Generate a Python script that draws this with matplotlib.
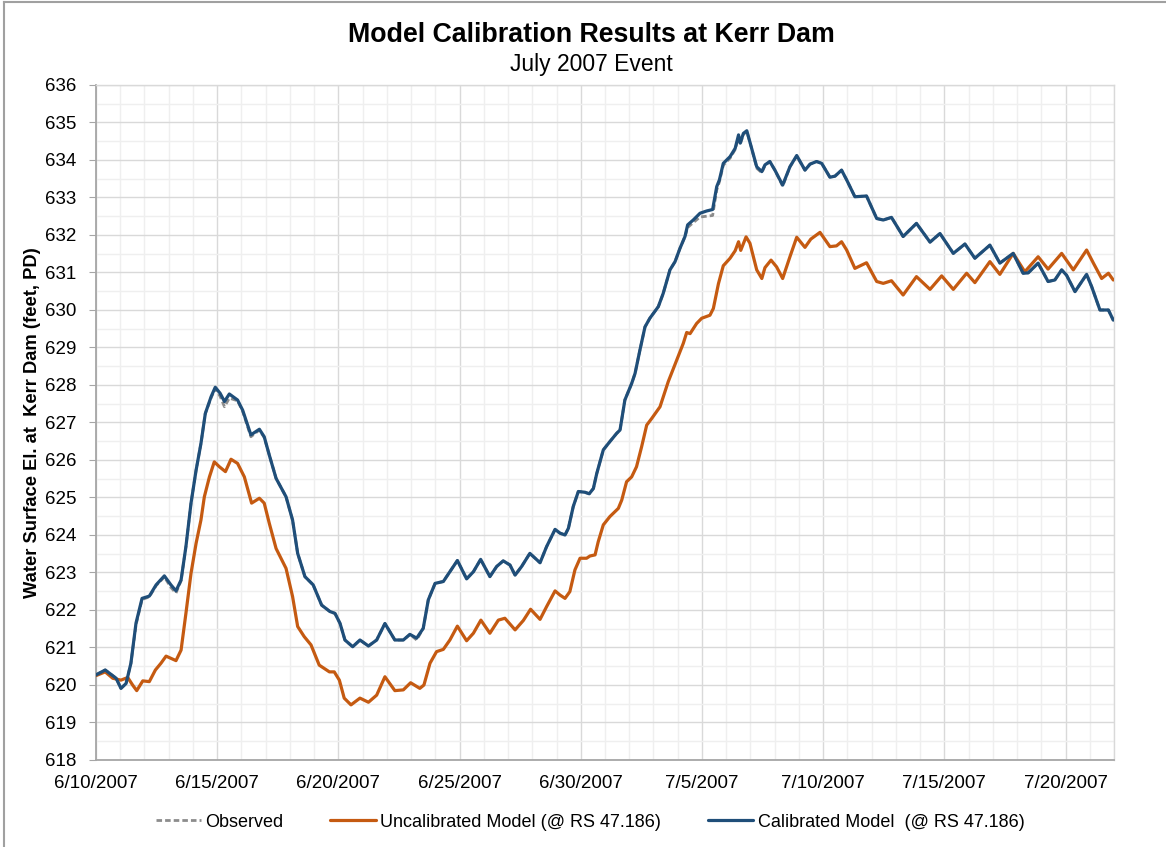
import numpy as np
import matplotlib
matplotlib.use("Agg")
import matplotlib.pyplot as plt
import matplotlib.dates as mdates
from matplotlib.lines import Line2D

plt.rcParams['font.family'] = ['Liberation Sans', 'DejaVu Sans']

# ---------------- data (days after 6/10/2007, water surface elevation) ----------------
start_date = np.datetime64('2007-06-10T00:00')

calib_day = [0, 0.38, 0.83, 1.03, 1.24, 1.44, 1.65, 1.90, 2.20, 2.48, 2.82, 3.09, 3.30, 3.51, 3.71,
             3.92, 4.13, 4.33, 4.51, 4.75, 4.92, 5.12, 5.30, 5.50, 5.84, 6.05, 6.39, 6.74, 6.94, 7.15,
             7.43, 7.84, 8.11, 8.32, 8.62, 8.96, 9.31, 9.65, 9.86, 10.07, 10.27, 10.59, 10.89, 11.24,
             11.58, 11.92, 12.33, 12.68, 12.95, 13.23, 13.50, 13.71, 13.99, 14.33, 14.60, 14.91, 15.29,
             15.57, 15.87, 16.25, 16.53, 16.80, 17.08, 17.29, 17.56, 17.90, 18.32, 18.59, 18.94, 19.14,
             19.35, 19.49, 19.69, 19.90, 20.17, 20.35, 20.52, 20.66, 20.93, 21.20, 21.48, 21.62, 21.82,
             22.10, 22.24, 22.44, 22.65, 22.85, 23.20, 23.40, 23.68, 23.89, 24.09, 24.30, 24.41, 24.64,
             24.92, 25.19, 25.44, 25.61, 25.72, 25.88, 26.16, 26.37, 26.51, 26.58, 26.71, 26.85, 27.05,
             27.26, 27.47, 27.60, 27.80, 28.01, 28.33, 28.63, 28.91, 29.25, 29.46, 29.73, 29.94, 30.28,
             30.49, 30.76, 30.97, 31.31, 31.79, 32.21, 32.48, 32.82, 33.30, 33.85, 34.41, 34.82, 35.37,
             35.85, 36.26, 36.88, 37.29, 37.84, 38.25, 38.46, 38.87, 39.28, 39.56, 39.84, 40.04, 40.39,
             40.87, 41.08, 41.42, 41.77, 41.97]
calib_elev = [620.27, 620.40, 620.18, 619.91, 620.04, 620.58, 621.65, 622.31, 622.37, 622.67, 622.91,
              622.67, 622.51, 622.80, 623.69, 624.85, 625.73, 626.44, 627.24, 627.69, 627.94, 627.78,
              627.56, 627.76, 627.60, 627.33, 626.67, 626.82, 626.62, 626.13, 625.51, 625.02, 624.40,
              623.51, 622.89, 622.67, 622.13, 621.96, 621.91, 621.64, 621.20, 621.02, 621.20, 621.04,
              621.20, 621.64, 621.20, 621.20, 621.35, 621.25, 621.51, 622.27, 622.71, 622.76, 623.02,
              623.32, 622.83, 623.02, 623.35, 622.89, 623.16, 623.31, 623.20, 622.93, 623.16, 623.51,
              623.26, 623.69, 624.15, 624.05, 624.00, 624.18, 624.76, 625.16, 625.14, 625.10, 625.24,
              625.64, 626.27, 626.49, 626.71, 626.80, 627.60, 628.04, 628.31, 628.93, 629.55, 629.78,
              630.09, 630.44, 631.07, 631.29, 631.64, 631.96, 632.27, 632.40, 632.58, 632.64, 632.68,
              633.29, 633.47, 633.91, 634.09, 634.31, 634.67, 634.45, 634.71, 634.78, 634.31, 633.82,
              633.69, 633.87, 633.96, 633.73, 633.33, 633.82, 634.12, 633.73, 633.89, 633.96, 633.91,
              633.54, 633.57, 633.73, 633.47, 633.02, 633.04, 632.44, 632.40, 632.47, 631.96, 632.31,
              631.81, 632.04, 631.51, 631.76, 631.38, 631.73, 631.25, 631.51, 630.98, 630.99, 631.25,
              630.76, 630.80, 631.07, 630.93, 630.49, 630.95, 630.62, 630.00, 630.00, 629.73]

obs_day = calib_day
obs_elev = [620.27, 620.40, 620.18, 619.91, 620.04, 620.58, 621.60, 622.28, 622.35, 622.65, 622.88,
            622.60, 622.45, 622.78, 623.69, 624.85, 625.73, 626.44, 627.24, 627.66, 627.90, 627.70,
            627.42, 627.65, 627.58, 627.30, 626.62, 626.80, 626.60, 626.13, 625.51, 625.02, 624.40,
            623.51, 622.89, 622.67, 622.13, 621.96, 621.91, 621.64, 621.20, 621.02, 621.20, 621.04,
            621.20, 621.64, 621.20, 621.20, 621.35, 621.20, 621.51, 622.27, 622.71, 622.76, 623.02,
            623.32, 622.83, 623.02, 623.35, 622.89, 623.16, 623.31, 623.20, 622.93, 623.16, 623.51,
            623.26, 623.69, 624.15, 624.05, 624.00, 624.18, 624.76, 625.16, 625.14, 625.10, 625.24,
            625.64, 626.27, 626.49, 626.71, 626.80, 627.60, 628.04, 628.31, 628.93, 629.55, 629.78,
            630.09, 630.44, 631.07, 631.29, 631.64, 631.96, 632.20, 632.33, 632.48, 632.50, 632.52,
            633.20, 633.42, 633.86, 634.05, 634.28, 634.60, 634.42, 634.68, 634.76, 634.31, 633.78,
            633.66, 633.85, 633.96, 633.73, 633.30, 633.82, 634.10, 633.73, 633.89, 633.96, 633.91,
            633.54, 633.57, 633.73, 633.47, 633.02, 633.04, 632.44, 632.40, 632.47, 631.96, 632.31,
            631.81, 632.04, 631.51, 631.76, 631.38, 631.73, 631.25, 631.51, 630.98, 630.99, 631.25,
            630.76, 630.80, 631.07, 630.93, 630.49, 630.95, 630.62, 630.00, 630.00, 629.73]

uncal_day = [0, 0.38, 0.69, 1.03, 1.31, 1.51, 1.68, 1.93, 2.20, 2.45, 2.68, 2.89, 3.30, 3.51, 3.71,
             3.92, 4.13, 4.33, 4.47, 4.68, 4.88, 5.09, 5.34, 5.57, 5.84, 6.12, 6.42, 6.74, 6.94, 7.15,
             7.43, 7.84, 8.11, 8.32, 8.59, 8.87, 9.21, 9.63, 9.83, 10.04, 10.24, 10.52, 10.89, 11.24,
             11.58, 11.92, 12.33, 12.68, 12.98, 13.36, 13.53, 13.78, 14.05, 14.33, 14.60, 14.91, 15.29,
             15.57, 15.88, 16.25, 16.60, 16.87, 17.29, 17.63, 17.93, 18.32, 18.59, 18.94, 19.14, 19.35,
             19.55, 19.76, 19.97, 20.24, 20.38, 20.59, 20.72, 20.93, 21.20, 21.55, 21.69, 21.89, 22.10,
             22.30, 22.51, 22.72, 22.93, 23.27, 23.61, 23.96, 24.23, 24.37, 24.51, 24.78, 24.99, 25.33,
             25.47, 25.68, 25.88, 26.16, 26.37, 26.51, 26.60, 26.82, 26.98, 27.05, 27.26, 27.47, 27.60,
             27.85, 28.08, 28.33, 28.63, 28.91, 29.25, 29.49, 29.87, 30.28, 30.55, 30.76, 30.97, 31.31,
             31.79, 32.21, 32.48, 32.82, 33.30, 33.85, 34.41, 34.89, 35.37, 35.92, 36.26, 36.88, 37.29,
             37.84, 38.32, 38.87, 39.28, 39.84, 40.32, 40.87, 41.15, 41.49, 41.77, 41.97]
uncal_elev = [620.25, 620.35, 620.18, 620.13, 620.20, 620.00, 619.85, 620.11, 620.09, 620.40, 620.58,
              620.77, 620.65, 620.93, 621.91, 622.98, 623.78, 624.40, 625.02, 625.55, 625.95, 625.82,
              625.69, 626.02, 625.91, 625.55, 624.85, 624.98, 624.85, 624.31, 623.64, 623.11, 622.36,
              621.56, 621.29, 621.07, 620.53, 620.35, 620.35, 620.13, 619.65, 619.47, 619.65, 619.54,
              619.73, 620.22, 619.85, 619.87, 620.06, 619.91, 620.00, 620.58, 620.89, 620.95, 621.20,
              621.57, 621.18, 621.38, 621.73, 621.38, 621.73, 621.78, 621.47, 621.72, 622.02, 621.75,
              622.09, 622.51, 622.40, 622.31, 622.49, 623.07, 623.38, 623.38, 623.44, 623.47, 623.82,
              624.27, 624.49, 624.71, 624.93, 625.42, 625.55, 625.82, 626.35, 626.93, 627.11, 627.42,
              628.09, 628.67, 629.11, 629.40, 629.37, 629.64, 629.78, 629.86, 630.04, 630.70, 631.18,
              631.38, 631.58, 631.82, 631.59, 631.95, 631.78, 631.60, 631.07, 630.84, 631.13, 631.33,
              631.15, 630.84, 631.42, 631.94, 631.67, 631.89, 632.07, 631.69, 631.71, 631.82, 631.60,
              631.11, 631.26, 630.76, 630.71, 630.78, 630.40, 630.89, 630.55, 630.91, 630.55, 630.98,
              630.73, 631.29, 630.95, 631.51, 631.02, 631.42, 631.09, 631.51, 631.07, 631.60, 631.25,
              630.84, 630.98, 630.80]

tick_labels = ['6/10/2007', '6/15/2007', '6/20/2007', '6/25/2007', '6/30/2007',
               '7/5/2007', '7/10/2007', '7/15/2007', '7/20/2007']
series_names = ['Observed', 'Uncalibrated Model (@ RS 47.186)', 'Calibrated Model  (@ RS 47.186)']
title = 'Model Calibration Results at Kerr Dam'
subtitle = 'July 2007 Event'
ylabel = 'Water Surface El. at  Kerr Dam (feet, PD)'


def to_dates(days):
    mins = np.round(np.asarray(days) * 1440).astype('int64')
    return start_date + mins.astype('timedelta64[m]')


def parse_label(s):
    m, d, y = s.split('/')
    return np.datetime64(f'{int(y):04d}-{int(m):02d}-{int(d):02d}')


# ---------------- figure ----------------
W, H = 1166, 847
fig = plt.figure(figsize=(W / 100, H / 100), dpi=100)
ax = fig.add_axes([96 / W, 1 - 760 / H, (1114 - 96) / W, (760 - 85) / H])

c_obs = '#8C8C8C'
c_unc = '#C55A11'
c_cal = '#1F4E79'

l_obs, = ax.plot(to_dates(obs_day), obs_elev, color=c_obs, lw=2.0, linestyle=(0, (2.0, 1.1)), zorder=3)
l_unc, = ax.plot(to_dates(uncal_day), uncal_elev, color=c_unc, lw=2.3, zorder=4,
                 solid_joinstyle='round', solid_capstyle='round')
l_cal, = ax.plot(to_dates(calib_day), calib_elev, color=c_cal, lw=2.3, zorder=5,
                 solid_joinstyle='round', solid_capstyle='round')

ticks = [parse_label(s) for s in tick_labels]
ax.set_xticks(ticks)
ax.set_xticklabels(tick_labels)
ax.xaxis.set_minor_locator(mdates.DayLocator())
ax.set_xlim(start_date, start_date + np.timedelta64(42 * 1440, 'm'))

ax.set_ylim(618, 636)
ax.set_yticks(np.arange(618, 637, 1))
ax.set_yticks(np.arange(618.5, 636, 1), minor=True)

ax.grid(which='major', color='#D9D9D9', lw=1.0, zorder=0)
ax.grid(which='minor', color='#EFEFEF', lw=1.0, zorder=0)
ax.set_axisbelow(True)

for s in ['top', 'right']:
    ax.spines[s].set_color('#D9D9D9')
    ax.spines[s].set_linewidth(1.0)
for s in ['left', 'bottom']:
    ax.spines[s].set_color('#A6A6A6')
    ax.spines[s].set_linewidth(1.3)

ax.tick_params(axis='y', which='major', length=5, color='#A6A6A6', labelsize=13.5, pad=9)
ax.tick_params(axis='y', which='minor', length=0)
ax.tick_params(axis='x', which='both', length=0, labelsize=13.5, pad=11)

ax.set_ylabel(ylabel, fontsize=13.2, fontweight='bold', labelpad=3)

fig.text(591 / W, 1 - 35 / H, title, ha='center', va='center', fontsize=19.3, fontweight='bold')
fig.text(591 / W, 1 - 64 / H, subtitle, ha='center', va='center', fontsize=16.5)

fig.legend([l_obs, l_unc, l_cal], series_names, loc='center', bbox_to_anchor=(590 / W, 1 - 822 / H),
           ncol=3, frameon=False, fontsize=13, handlelength=2.5, handletextpad=0.25, columnspacing=2.6)

# outer chart border (top and left edges visible)
fig.add_artist(Line2D([4 / W, 4 / W], [0, 1 - 2 / H], color='#A0A0A0', lw=1.5))
fig.add_artist(Line2D([4 / W, 1], [1 - 2 / H, 1 - 2 / H], color='#A0A0A0', lw=1.5))

fig.savefig('out.png', dpi=100)
